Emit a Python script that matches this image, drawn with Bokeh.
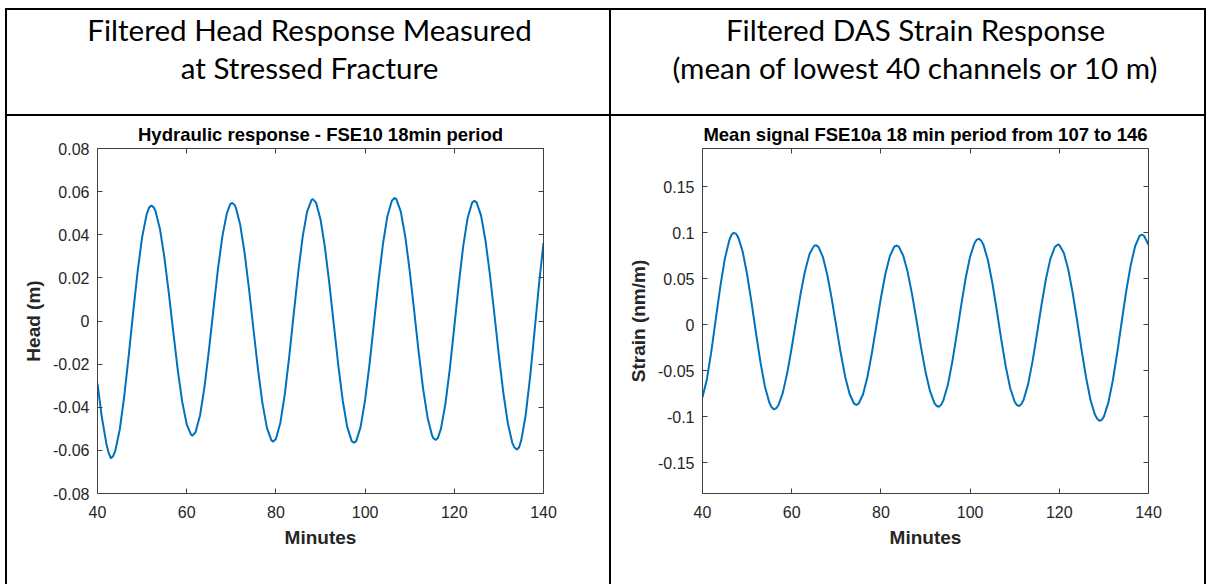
from bokeh.plotting import figure
from bokeh.models import Range1d, LinearAxis, FixedTicker, Label, Div
from bokeh.layouts import row, column
from bokeh.embed import file_html
from bokeh.resources import INLINE

# ---------------- data ----------------
head_t = [40, 41, 42, 42.5, 43, 43.5, 44, 45, 46, 47,
          48, 49, 50, 51, 51.6, 52, 52.1, 52.6, 53, 54,
          55, 56, 57, 58, 59, 60, 61, 61.3, 62, 63,
          64, 65, 66, 67, 68, 69, 69.7, 70, 70.2, 70.7,
          71, 72, 73, 74, 75, 76, 77, 78, 79, 79.4,
          80, 81, 82, 83, 84, 85, 86, 87, 88, 88.3,
          89, 90, 91, 92, 93, 94, 95, 96, 97, 97.5,
          98, 99, 100, 101, 102, 103, 104, 105, 106, 106.6,
          107, 108, 109, 110, 111, 112, 113, 114, 115, 115.3,
          115.8, 116, 116.3, 117, 118, 119, 120, 121, 122, 123,
          124, 124.5, 125, 126, 127, 128, 129, 130, 131, 132,
          133, 133.5, 134, 134.5, 135, 136, 137, 138, 139, 140]
head_m = [-0.0290, -0.0450, -0.0570, -0.0612, -0.0636, -0.0627, -0.0601, -0.0502, -0.0349, -0.0161,
          0.0040, 0.0230, 0.0388, 0.0493, 0.0527, 0.0534, 0.0535, 0.0527, 0.0510, 0.0427,
          0.0294, 0.0128, -0.0053, -0.0228, -0.0375, -0.0479, -0.0528, -0.0531, -0.0515, -0.0437,
          -0.0304, -0.0133, 0.0055, 0.0239, 0.0393, 0.0499, 0.0539, 0.0546, 0.0547, 0.0539,
          0.0527, 0.0446, 0.0313, 0.0143, -0.0044, -0.0227, -0.0383, -0.0497, -0.0554, -0.0559,
          -0.0547, -0.0472, -0.0339, -0.0163, 0.0033, 0.0225, 0.0390, 0.0507, 0.0562, 0.0565,
          0.0549, 0.0472, 0.0341, 0.0171, -0.0019, -0.0207, -0.0371, -0.0492, -0.0557, -0.0565,
          -0.0557, -0.0491, -0.0366, -0.0199, -0.0008, 0.0185, 0.0357, 0.0486, 0.0558, 0.0570,
          0.0565, 0.0507, 0.0392, 0.0233, 0.0048, -0.0142, -0.0314, -0.0447, -0.0530, -0.0543,
          -0.0551, -0.0549, -0.0543, -0.0500, -0.0385, -0.0221, -0.0026, 0.0171, 0.0347, 0.0479,
          0.0549, 0.0558, 0.0550, 0.0489, 0.0372, 0.0213, 0.0029, -0.0161, -0.0334, -0.0474,
          -0.0565, -0.0587, -0.0596, -0.0587, -0.0555, -0.0437, -0.0259, -0.0046, 0.0171, 0.0362]

strain_t = [40, 41, 42, 43, 44, 45, 46, 46.5, 47, 47.5,
            48, 49, 50, 51, 52, 53, 54, 55, 55.5, 56,
            56.5, 57, 58, 59, 60, 61, 62, 63, 64, 65,
            65.4, 66, 67, 68, 69, 70, 71, 72, 73, 74,
            74.5, 75, 76, 77, 78, 79, 80, 81, 82, 83,
            83.5, 84, 85, 86, 87, 88, 89, 90, 91, 92,
            92.5, 93, 93.5, 94, 95, 96, 97, 98, 99, 100,
            101, 101.5, 102, 102.5, 103, 104, 105, 106, 107, 108,
            109, 110, 110.5, 111, 111.5, 112, 113, 114, 115, 116,
            117, 118, 119, 119.7, 120, 121, 122, 123, 124, 125,
            126, 127, 128, 128.5, 129, 129.5, 130, 131, 132, 133,
            134, 135, 136, 137, 138, 138.5, 139, 140]
strain_nm = [-0.0790, -0.0590, -0.0284, 0.0068, 0.0418, 0.0716, 0.0918, 0.0979, 0.1000, 0.0991,
             0.0953, 0.0797, 0.0549, 0.0240, -0.0093, -0.0410, -0.0674, -0.0850, -0.0899, -0.0920,
             -0.0911, -0.0879, -0.0742, -0.0524, -0.0251, 0.0048, 0.0339, 0.0588, 0.0769, 0.0858,
             0.0866, 0.0848, 0.0736, 0.0539, 0.0276, -0.0018, -0.0311, -0.0568, -0.0757, -0.0860,
             -0.0873, -0.0860, -0.0757, -0.0563, -0.0302, -0.0006, 0.0291, 0.0552, 0.0746, 0.0849,
             0.0862, 0.0850, 0.0754, 0.0573, 0.0327, 0.0044, -0.0247, -0.0511, -0.0721, -0.0853,
             -0.0884, -0.0892, -0.0872, -0.0825, -0.0657, -0.0407, -0.0106, 0.0211, 0.0506, 0.0741,
             0.0890, 0.0926, 0.0935, 0.0915, 0.0869, 0.0701, 0.0452, 0.0152, -0.0164, -0.0457,
             -0.0691, -0.0839, -0.0875, -0.0884, -0.0864, -0.0817, -0.0649, -0.0399, -0.0100, 0.0212,
             0.0496, 0.0717, 0.0846, 0.0873, 0.0868, 0.0784, 0.0604, 0.0347, 0.0043, -0.0277,
             -0.0574, -0.0820, -0.0981, -0.1023, -0.1045, -0.1035, -0.1000, -0.0848, -0.0607, -0.0301,
             0.0035, 0.0363, 0.0646, 0.0854, 0.0966, 0.0980, 0.0968, 0.0870]

x_ticks = [40, 60, 80, 100, 120, 140]
head_ticks = [-0.08, -0.06, -0.04, -0.02, 0.0, 0.02, 0.04, 0.06, 0.08]
head_tick_labels = ["-0.08", "-0.06", "-0.04", "-0.02", "0", "0.02", "0.04", "0.06", "0.08"]
strain_ticks = [-0.15, -0.1, -0.05, 0.0, 0.05, 0.1, 0.15]
strain_tick_labels = ["-0.15", "-0.1", "-0.05", "0", "0.05", "0.1", "0.15"]

header_left = ["Filtered Head Response Measured", "at Stressed Fracture"]
header_right = ["Filtered DAS Strain Response", "(mean of lowest 40 channels or 10 m)"]
title_left = "Hydraulic response - FSE10 18min period"
title_right = "Mean signal FSE10a 18 min period from 107 to 146"

assert len(head_t) == len(head_m) and len(strain_t) == len(strain_nm)

# ---------------- styling ----------------
LINE = "#0072BD"
AXC = "#404040"
TXT = "#262626"
FONT = "Liberation Sans"
PAD_L, PAD_T = 5, 8
W_L, W_R, SEP = 602, 593, 2
H_HEAD, H_PLOT = 104, 468


def style_axis(ax, ticks, labels=None, show=True, standoff=8):
    ax.ticker = FixedTicker(ticks=ticks)
    ax.major_tick_in = 5
    ax.major_tick_out = 0
    ax.minor_tick_line_color = None
    ax.axis_line_color = AXC
    ax.major_tick_line_color = AXC
    ax.major_label_text_font = FONT
    if show:
        ax.major_label_text_color = TXT
        ax.major_label_text_font_size = "16px"
        ax.major_label_standoff = standoff
        if labels is not None:
            ax.major_label_overrides = dict(zip([float(t) for t in ticks], labels))
    else:
        ax.major_label_text_color = None
        ax.major_label_text_alpha = 0
        ax.major_label_text_font_size = "1px"
        ax.major_label_standoff = 0


def make_plot(width, xs, ys, yr, yticks, ylabels, title, ylab, mb_left, mb_right):
    p = figure(width=width, height=H_PLOT, toolbar_location=None, output_backend="svg",
               x_range=Range1d(40, 140), y_range=Range1d(*yr),
               min_border_left=mb_left, min_border_right=mb_right,
               min_border_top=32, min_border_bottom=H_PLOT - 32 - 345)
    p.grid.visible = False
    p.outline_line_color = None
    p.line(xs, ys, line_width=2, line_color=LINE, line_join="round")
    bottom = p.xaxis[0]
    left = p.yaxis[0]
    style_axis(bottom, x_ticks, standoff=12)
    style_axis(left, yticks, ylabels)
    top = LinearAxis()
    right = LinearAxis()
    p.add_layout(top, "above")
    p.add_layout(right, "right")
    style_axis(top, x_ticks, show=False)
    style_axis(right, yticks, show=False)
    for ax, lab in ((bottom, "Minutes"), (left, ylab)):
        ax.axis_label = lab
        ax.axis_label_text_font = FONT
        ax.axis_label_text_font_size = "19px"
        ax.axis_label_text_font_style = "bold"
        ax.axis_label_text_color = TXT
        ax.axis_label_standoff = 6
    p.title.text = title
    p.title.align = "center"
    p.title.text_font = FONT
    p.title.text_font_size = "18.5px"
    p.title.text_font_style = "bold"
    p.title.text_color = "black"
    p.title.standoff = 7
    return p


def make_header(width, lines, cx):
    h = figure(width=width, height=H_HEAD, toolbar_location=None, output_backend="svg",
               x_range=Range1d(0, width), y_range=Range1d(H_HEAD, 0),
               x_axis_type=None, y_axis_type=None, min_border=0)
    h.grid.visible = False
    h.outline_line_color = None
    for i, txt in enumerate(lines):
        h.add_layout(Label(x=cx, y=19 + 38 * i, text=txt, text_align="center",
                           text_baseline="alphabetic", text_font="Lato",
                           text_font_size="29.6px", text_color="black"))
    return h


def bar(w, h, color="black"):
    return Div(text="", width=w, height=h, margin=0, styles={"background-color": color})


p1 = make_plot(W_L, head_t, head_m, (-0.08, 0.08), head_ticks, head_tick_labels,
               title_left, "Head (m)", 90, 66)
p2 = make_plot(W_R, strain_t, strain_nm, (-0.1837, 0.1918), strain_ticks, strain_tick_labels,
               title_right, "Strain (nm/m)", 91, 56)
h1 = make_header(W_L, header_left, 302)
h2 = make_header(W_R, header_right, 304)

total_w = SEP * 3 + W_L + W_R
layout = column(
    bar(PAD_L + total_w, PAD_T, "white"),
    row(bar(PAD_L, SEP, "white"), bar(total_w, SEP)),
    row(bar(PAD_L, H_HEAD, "white"), bar(SEP, H_HEAD), h1, bar(SEP, H_HEAD), h2, bar(SEP, H_HEAD)),
    row(bar(PAD_L, SEP, "white"), bar(total_w, SEP)),
    row(bar(PAD_L, H_PLOT, "white"), bar(SEP, H_PLOT), p1, bar(SEP, H_PLOT), p2, bar(SEP, H_PLOT)),
)

open("out.html", "w").write(file_html(layout, INLINE))
